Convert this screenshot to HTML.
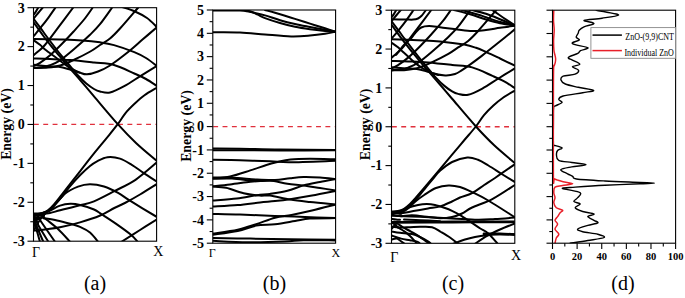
<!DOCTYPE html>
<html><head><meta charset="utf-8"><style>html,body{margin:0;padding:0;background:#fff;overflow:hidden}svg{display:block}</style></head><body>
<svg width="685" height="298" viewBox="0 0 685 298">
<defs>
<clipPath id="clipa"><rect x="33.5" y="7.7" width="123.10" height="233.50"/></clipPath>
<clipPath id="clipb"><rect x="212.8" y="10.0" width="122.80" height="233.20"/></clipPath>
<clipPath id="clipc"><rect x="391.5" y="10.2" width="123.30" height="233.10"/></clipPath>
<clipPath id="clipd"><rect x="552.5" y="10.2" width="123.10" height="233.00"/></clipPath>
</defs>
<rect width="685" height="298" fill="#fff"/>
<line x1="33.9" y1="124.45" x2="156.6" y2="124.45" stroke="#e0303c" stroke-width="1.3" stroke-dasharray="4.9 4.45"/>
<line x1="213.20000000000002" y1="126.60" x2="335.6" y2="126.60" stroke="#e0303c" stroke-width="1.3" stroke-dasharray="4.9 4.45"/>
<line x1="391.9" y1="126.75" x2="514.8" y2="126.75" stroke="#e0303c" stroke-width="1.3" stroke-dasharray="4.9 4.45"/>
<g clip-path="url(#clipa)" fill="none" stroke="#000" stroke-width="2.0" stroke-linecap="round" stroke-linejoin="round">
<path d="M33.60,14.80 C34.00,14.23 35.17,12.70 36.00,11.40 C36.83,10.10 38.17,7.73 38.60,7.00"/>
<path d="M33.60,18.60 C34.37,17.67 36.60,14.93 38.20,13.00 C39.80,11.07 42.37,8.00 43.20,7.00"/>
<path d="M33.60,36.20 C34.85,34.68 38.68,30.12 41.10,27.10 C43.52,24.08 45.63,21.45 48.10,18.10 C50.57,14.75 54.60,8.85 55.90,7.00"/>
<path d="M33.60,55.20 C34.33,54.58 36.12,53.20 38.00,51.50 C39.88,49.80 41.23,49.40 44.90,45.00 C48.57,40.60 55.22,31.43 60.00,25.10 C64.78,18.77 71.33,10.02 73.60,7.00"/>
<path d="M33.60,66.00 C34.67,65.47 37.25,64.60 40.00,62.80 C42.75,61.00 46.47,58.33 50.10,55.20 C53.73,52.07 57.88,47.95 61.80,44.00 C65.72,40.05 69.82,35.67 73.60,31.50 C77.38,27.33 81.25,23.08 84.50,19.00 C87.75,14.92 91.67,9.00 93.10,7.00"/>
<path d="M33.60,67.80 C35.00,67.70 39.25,67.63 42.00,67.20 C44.75,66.77 47.08,66.35 50.10,65.20 C53.12,64.05 56.18,62.92 60.10,60.30 C64.02,57.68 68.57,53.80 73.60,49.50 C78.63,45.20 85.90,38.72 90.30,34.50 C94.70,30.28 96.30,28.78 100.00,24.20 C103.70,19.62 110.42,9.87 112.50,7.00"/>
<path d="M33.60,68.00 C36.00,67.92 43.58,67.92 48.00,67.50 C52.42,67.08 55.83,66.75 60.10,65.50 C64.37,64.25 68.57,62.33 73.60,60.00 C78.63,57.67 85.90,54.00 90.30,51.50 C94.70,49.00 96.72,47.17 100.00,45.00 C103.28,42.83 106.67,41.25 110.00,38.50 C113.33,35.75 115.23,33.75 120.00,28.50 C124.77,23.25 135.50,10.58 138.60,7.00"/>
<path d="M122.20,7.00 C124.33,7.75 130.87,9.67 135.00,11.50 C139.13,13.33 143.40,15.45 147.00,18.00 C150.60,20.55 155.00,25.33 156.60,26.80"/>
<path d="M33.60,38.90 C38.00,39.00 51.93,39.25 60.00,39.50 C68.07,39.75 75.33,39.93 82.00,40.40 C88.67,40.87 94.67,41.52 100.00,42.30 C105.33,43.08 108.28,43.47 114.00,45.10 C119.72,46.73 128.97,49.95 134.30,52.10 C139.63,54.25 142.28,55.72 146.00,58.00 C149.72,60.28 154.83,64.50 156.60,65.80"/>
<path d="M33.60,58.50 C36.33,58.58 43.93,58.75 50.00,59.00 C56.07,59.25 62.67,59.42 70.00,60.00 C77.33,60.58 86.67,61.67 94.00,62.50 C101.33,63.33 107.28,63.17 114.00,65.00 C120.72,66.83 128.97,71.17 134.30,73.50 C139.63,75.83 142.28,76.95 146.00,79.00 C149.72,81.05 154.83,84.67 156.60,85.80"/>
<path d="M33.60,40.20 C34.67,40.97 38.03,43.20 40.00,44.80 C41.97,46.40 42.70,47.63 45.40,49.80 C48.10,51.97 53.07,55.45 56.20,57.80 C59.33,60.15 61.57,62.03 64.20,63.90 C66.83,65.77 69.37,67.55 72.00,69.00 C74.63,70.45 77.50,71.72 80.00,72.60 C82.50,73.48 84.00,74.48 87.00,74.30 C90.00,74.12 94.17,72.97 98.00,71.50 C101.83,70.03 104.93,68.78 110.00,65.50 C115.07,62.22 122.98,56.12 128.40,51.80 C133.82,47.48 137.80,43.65 142.50,39.60 C147.20,35.55 154.25,29.52 156.60,27.50"/>
<path d="M33.60,64.80 C35.80,65.03 42.60,65.87 46.80,66.20 C51.00,66.53 54.93,66.23 58.80,66.80 C62.67,67.37 66.47,68.60 70.00,69.60 C73.53,70.60 78.33,72.27 80.00,72.80"/>
<path d="M33.60,18.80 C35.02,20.70 39.98,27.33 42.10,30.20 C44.22,33.07 44.15,33.12 46.30,36.00 C48.45,38.88 52.30,44.00 55.00,47.50 C57.70,51.00 60.00,53.92 62.50,57.00 C65.00,60.08 67.42,62.92 70.00,66.00 C72.58,69.08 75.28,72.58 78.00,75.50 C80.72,78.42 83.63,81.25 86.30,83.50 C88.97,85.75 91.72,87.67 94.00,89.00 C96.28,90.33 97.33,90.92 100.00,91.50 C102.67,92.08 105.97,93.38 110.00,92.50 C114.03,91.62 119.15,88.93 124.20,86.20 C129.25,83.47 134.90,79.47 140.30,76.10 C145.70,72.73 153.88,67.68 156.60,66.00"/>
<path d="M33.60,22.30 C35.23,24.58 40.33,31.88 43.40,36.00 C46.47,40.12 48.90,43.17 52.00,47.00 C55.10,50.83 58.95,55.37 62.00,59.00 C65.05,62.63 66.92,64.87 70.30,68.80 C73.68,72.73 78.35,78.00 82.30,82.60 C86.25,87.20 88.08,89.47 94.00,96.40 C99.92,103.33 110.80,116.43 117.80,124.20 C124.80,131.97 129.53,136.90 136.00,143.00 C142.47,149.10 153.17,157.83 156.60,160.80"/>
<path d="M35.00,214.50 C36.17,214.28 39.83,213.90 42.00,213.20 C44.17,212.50 46.00,211.78 48.00,210.30 C50.00,208.82 51.67,206.97 54.00,204.30 C56.33,201.63 57.60,199.88 62.00,194.30 C66.40,188.72 75.07,177.62 80.40,170.80 C85.73,163.98 89.73,158.73 94.00,153.40 C98.27,148.07 102.03,143.67 106.00,138.80 C109.97,133.93 114.52,128.53 117.80,124.20 C121.08,119.87 122.82,116.30 125.70,112.80 C128.58,109.30 131.97,106.13 135.10,103.20 C138.23,100.27 140.92,97.77 144.50,95.20 C148.08,92.63 154.58,89.03 156.60,87.80"/>
<path d="M35.00,214.50 C36.17,214.32 39.83,214.02 42.00,213.40 C44.17,212.78 46.00,212.15 48.00,210.80 C50.00,209.45 51.67,207.68 54.00,205.30 C56.33,202.92 59.33,199.67 62.00,196.50 C64.67,193.33 67.00,189.83 70.00,186.30 C73.00,182.77 76.67,178.68 80.00,175.30 C83.33,171.92 87.17,168.33 90.00,166.00 C92.83,163.67 94.08,162.77 97.00,161.30 C99.92,159.83 103.67,157.65 107.50,157.20 C111.33,156.75 115.95,157.33 120.00,158.60 C124.05,159.87 127.88,162.42 131.80,164.80 C135.72,167.18 139.37,170.12 143.50,172.90 C147.63,175.68 154.42,180.07 156.60,181.50"/>
<path d="M37.00,214.20 C38.17,213.90 41.65,213.23 44.00,212.40 C46.35,211.57 47.57,212.33 51.10,209.20 C54.63,206.07 60.72,197.37 65.20,193.60 C69.68,189.83 73.88,188.17 78.00,186.60 C82.12,185.03 85.57,184.22 89.90,184.20 C94.23,184.18 99.30,185.05 104.00,186.50 C108.70,187.95 113.77,190.53 118.10,192.90 C122.43,195.27 123.58,196.72 130.00,200.70 C136.42,204.68 152.17,214.12 156.60,216.80"/>
<path d="M39.00,214.60 C40.83,214.33 46.47,213.72 50.00,213.00 C53.53,212.28 55.20,211.58 60.20,210.30 C65.20,209.02 74.37,206.80 80.00,205.30 C85.63,203.80 88.20,203.70 94.00,201.30 C99.80,198.90 107.88,194.48 114.80,190.90 C121.72,187.32 128.53,184.52 135.50,179.80 C142.47,175.08 153.08,165.47 156.60,162.60"/>
<path d="M40.00,214.80 C41.67,214.08 46.67,212.03 50.00,210.50 C53.33,208.97 56.62,206.72 60.00,205.60 C63.38,204.48 66.95,203.90 70.30,203.80 C73.65,203.70 76.15,204.05 80.10,205.00 C84.05,205.95 90.35,207.92 94.00,209.50 C97.65,211.08 98.37,212.15 102.00,214.50 C105.63,216.85 111.07,220.30 115.80,223.60 C120.53,226.90 126.70,231.23 130.40,234.30 C134.10,237.37 136.73,240.72 138.00,242.00"/>
<path d="M33.60,230.60 C35.50,230.40 40.60,229.95 45.00,229.40 C49.40,228.85 54.17,228.47 60.00,227.30 C65.83,226.13 73.30,224.37 80.00,222.40 C86.70,220.43 94.48,217.90 100.20,215.50 C105.92,213.10 110.18,210.08 114.30,208.00 C118.42,205.92 120.62,205.25 124.90,203.00 C129.18,200.75 134.72,197.63 140.00,194.50 C145.28,191.37 153.83,185.92 156.60,184.20"/>
<path d="M121.10,242.00 C124.25,240.00 134.08,233.75 140.00,230.00 C145.92,226.25 153.83,221.25 156.60,219.50"/>
<path d="M43.40,218.20 C45.67,218.57 52.52,219.47 57.00,220.40 C61.48,221.33 66.47,222.73 70.30,223.80 C74.13,224.87 76.72,225.35 80.00,226.80 C83.28,228.25 86.95,229.97 90.00,232.50 C93.05,235.03 96.92,240.42 98.30,242.00"/>
<path d="M33.60,222.00 C34.00,223.00 34.93,224.67 36.00,228.00 C37.07,231.33 39.33,239.67 40.00,242.00"/>
<path d="M34.00,219.50 C34.50,220.75 35.43,223.25 37.00,227.00 C38.57,230.75 42.33,239.50 43.40,242.00"/>
<path d="M35.50,218.00 C36.00,219.25 36.33,221.50 38.50,225.50 C40.67,229.50 46.83,239.25 48.50,242.00"/>
<path d="M38.00,216.50 C38.67,217.58 39.13,218.75 42.00,223.00 C44.87,227.25 53.00,238.83 55.20,242.00"/>
<path d="M42.00,216.00 C42.83,216.67 44.33,217.83 47.00,220.00 C49.67,222.17 54.12,225.33 58.00,229.00 C61.88,232.67 68.25,239.83 70.30,242.00"/>
<path d="M33.60,216.00 C34.00,216.58 35.27,218.17 36.00,219.50 C36.73,220.83 37.67,223.25 38.00,224.00"/>
<path d="M33.60,227.00 C33.92,226.17 34.77,223.58 35.50,222.00 C36.23,220.42 37.58,218.25 38.00,217.50"/>
<path d="M33.60,230.50 C34.17,229.50 35.77,226.50 37.00,224.50 C38.23,222.50 39.83,220.00 41.00,218.50 C42.17,217.00 43.50,216.00 44.00,215.50"/>
<path d="M33.60,213.50 C34.50,213.52 37.10,213.52 39.00,213.60 C40.90,213.68 44.00,213.93 45.00,214.00"/>
<path d="M33.60,215.20 C34.50,215.23 37.27,215.30 39.00,215.40 C40.73,215.50 43.17,215.73 44.00,215.80"/>
<path d="M33.60,217.00 C34.33,217.03 36.60,217.10 38.00,217.20 C39.40,217.30 41.33,217.53 42.00,217.60"/>
<path d="M33.60,218.80 C34.17,218.82 35.93,218.83 37.00,218.90 C38.07,218.97 39.50,219.15 40.00,219.20"/>
</g>
<g clip-path="url(#clipb)" fill="none" stroke="#000" stroke-width="2.0" stroke-linecap="round" stroke-linejoin="round">
<path d="M212.80,10.40 C217.33,10.43 234.30,10.45 240.00,10.60 C245.70,10.75 244.50,10.90 247.00,11.30 C249.50,11.70 252.00,12.32 255.00,13.00 C258.00,13.68 260.83,14.20 265.00,15.40 C269.17,16.60 275.00,18.77 280.00,20.20 C285.00,21.63 290.00,22.87 295.00,24.00 C300.00,25.13 305.00,26.03 310.00,27.00 C315.00,27.97 320.73,29.02 325.00,29.80 C329.27,30.58 333.83,31.38 335.60,31.70"/>
<path d="M246.00,10.20 C247.00,10.50 250.00,11.25 252.00,12.00 C254.00,12.75 255.83,13.68 258.00,14.70 C260.17,15.72 261.33,16.72 265.00,18.10 C268.67,19.48 275.00,21.55 280.00,23.00 C285.00,24.45 290.00,25.77 295.00,26.80 C300.00,27.83 305.00,28.52 310.00,29.20 C315.00,29.88 320.73,30.48 325.00,30.90 C329.27,31.32 333.83,31.57 335.60,31.70"/>
<path d="M265.00,10.00 C266.67,10.47 271.67,11.83 275.00,12.80 C278.33,13.77 281.67,14.78 285.00,15.80 C288.33,16.82 291.67,17.87 295.00,18.90 C298.33,19.93 301.67,20.95 305.00,22.00 C308.33,23.05 311.67,24.15 315.00,25.20 C318.33,26.25 321.57,27.22 325.00,28.30 C328.43,29.38 333.83,31.13 335.60,31.70"/>
<path d="M212.80,32.20 C217.33,32.23 231.30,32.02 240.00,32.40 C248.70,32.78 256.48,33.83 265.00,34.50 C273.52,35.17 283.60,36.22 291.10,36.40 C298.60,36.58 304.35,36.03 310.00,35.60 C315.65,35.17 320.73,34.45 325.00,33.80 C329.27,33.15 333.83,32.05 335.60,31.70"/>
<path d="M212.80,148.60 C217.33,148.63 228.80,148.63 240.00,148.80 C251.20,148.97 264.07,149.42 280.00,149.60 C295.93,149.78 326.33,149.85 335.60,149.90"/>
<path d="M212.80,150.20 C217.33,150.20 228.80,150.17 240.00,150.20 C251.20,150.23 264.07,150.38 280.00,150.40 C295.93,150.42 326.33,150.32 335.60,150.30"/>
<path d="M212.80,159.70 C217.33,159.80 230.40,160.03 240.00,160.30 C249.60,160.57 262.07,160.98 270.40,161.30 C278.73,161.62 279.13,162.28 290.00,162.20 C300.87,162.12 328.00,161.03 335.60,160.80"/>
<path d="M212.80,177.60 C215.68,177.40 223.85,177.60 230.10,176.40 C236.35,175.20 244.25,172.30 250.30,170.40 C256.35,168.50 262.05,166.35 266.40,165.00 C270.75,163.65 272.38,163.23 276.40,162.30 C280.42,161.37 284.90,160.00 290.50,159.40 C296.10,158.80 302.48,158.72 310.00,158.70 C317.52,158.68 331.33,159.20 335.60,159.30"/>
<path d="M212.80,178.20 C216.00,178.13 224.63,177.57 232.00,177.80 C239.37,178.03 249.83,179.23 257.00,179.60 C264.17,179.97 269.50,180.23 275.00,180.00 C280.50,179.77 285.23,178.68 290.00,178.20 C294.77,177.72 298.60,177.20 303.60,177.10 C308.60,177.00 314.67,177.27 320.00,177.60 C325.33,177.93 333.00,178.85 335.60,179.10"/>
<path d="M212.80,178.80 C216.00,178.77 225.08,178.27 232.00,178.60 C238.92,178.93 247.97,180.47 254.30,180.80 C260.63,181.13 264.48,180.10 270.00,180.60 C275.52,181.10 281.80,183.00 287.40,183.80 C293.00,184.60 298.17,184.70 303.60,185.40 C309.03,186.10 314.67,187.15 320.00,188.00 C325.33,188.85 333.00,190.08 335.60,190.50"/>
<path d="M212.80,186.20 C215.68,185.92 223.85,185.23 230.10,184.50 C236.35,183.77 244.98,182.40 250.30,181.80 C255.62,181.20 257.88,181.13 262.00,180.90 C266.12,180.67 272.83,180.48 275.00,180.40"/>
<path d="M212.80,186.50 C215.02,186.72 220.97,186.68 226.10,187.80 C231.23,188.92 238.00,191.90 243.60,193.20 C249.20,194.50 255.30,195.20 259.70,195.60 C264.10,196.00 264.93,194.93 270.00,195.60 C275.07,196.27 283.43,198.53 290.10,199.60 C296.77,200.67 302.42,201.20 310.00,202.00 C317.58,202.80 331.33,204.00 335.60,204.40"/>
<path d="M212.80,200.60 C216.80,200.27 229.43,199.50 236.80,198.60 C244.17,197.70 251.47,195.98 257.00,195.20 C262.53,194.42 264.93,194.63 270.00,193.90 C275.07,193.17 281.80,192.22 287.40,190.80 C293.00,189.38 298.17,186.87 303.60,185.40 C309.03,183.93 314.67,183.05 320.00,182.00 C325.33,180.95 333.00,179.58 335.60,179.10"/>
<path d="M212.80,206.60 C216.95,206.35 229.83,205.78 237.70,205.10 C245.57,204.42 253.78,203.17 260.00,202.50 C266.22,201.83 269.75,201.70 275.00,201.10 C280.25,200.50 285.33,199.83 291.50,198.90 C297.67,197.97 304.65,196.83 312.00,195.50 C319.35,194.17 331.67,191.67 335.60,190.90"/>
<path d="M212.80,214.00 C217.33,214.10 229.63,214.28 240.00,214.60 C250.37,214.92 264.17,215.50 275.00,215.90 C285.83,216.30 294.90,216.63 305.00,217.00 C315.10,217.37 330.50,217.92 335.60,218.10"/>
<path d="M212.80,233.60 C216.95,232.95 230.47,231.27 237.70,229.70 C244.93,228.13 249.98,226.20 256.20,224.20 C262.42,222.20 269.12,219.25 275.00,217.70 C280.88,216.15 285.33,216.10 291.50,214.90 C297.67,213.70 304.65,212.22 312.00,210.50 C319.35,208.78 331.67,205.58 335.60,204.60"/>
<path d="M212.80,234.80 C216.95,234.17 230.47,232.53 237.70,231.00 C244.93,229.47 249.98,226.73 256.20,225.60 C262.42,224.47 268.53,224.97 275.00,224.20 C281.47,223.43 289.18,221.95 295.00,221.00 C300.82,220.05 303.13,218.98 309.90,218.50 C316.67,218.02 331.32,218.17 335.60,218.10"/>
<path d="M212.80,238.00 C219.00,238.10 237.13,238.38 250.00,238.60 C262.87,238.82 275.73,239.12 290.00,239.30 C304.27,239.48 328.00,239.63 335.60,239.70"/>
<path d="M212.80,240.80 C218.57,241.05 235.40,242.17 247.40,242.30 C259.40,242.43 275.45,241.95 284.80,241.60 C294.15,241.25 295.03,240.40 303.50,240.20 C311.97,240.00 330.25,240.37 335.60,240.40"/>
</g>
<g clip-path="url(#clipc)" fill="none" stroke="#000" stroke-width="2.0" stroke-linecap="round" stroke-linejoin="round">
<path d="M391.60,17.29 C392.00,16.72 393.17,15.19 394.00,13.89 C394.84,12.60 396.17,10.23 396.61,9.50"/>
<path d="M391.60,21.08 C392.37,20.15 394.61,17.42 396.21,15.49 C397.81,13.56 400.38,10.50 401.22,9.50"/>
<path d="M391.60,38.65 C392.85,37.14 396.69,32.58 399.11,29.57 C401.53,26.56 403.65,23.93 406.12,20.58 C408.59,17.24 412.63,11.35 413.94,9.50"/>
<path d="M391.60,57.62 C392.33,57.00 394.12,55.62 396.01,53.92 C397.89,52.23 399.25,51.83 402.92,47.44 C406.59,43.04 413.25,33.89 418.04,27.57 C422.83,21.25 429.39,12.51 431.67,9.50"/>
<path d="M391.60,68.40 C392.67,67.87 395.26,67.00 398.01,65.21 C400.77,63.41 404.49,60.75 408.13,57.62 C411.77,54.49 415.92,50.38 419.85,46.44 C423.77,42.49 427.88,38.12 431.67,33.96 C435.45,29.80 439.33,25.56 442.58,21.48 C445.84,17.40 449.76,11.50 451.20,9.50"/>
<path d="M391.60,70.20 C393.00,70.10 397.26,70.03 400.01,69.60 C402.77,69.17 405.11,68.75 408.13,67.60 C411.15,66.45 414.22,65.32 418.14,62.71 C422.07,60.10 426.62,56.22 431.67,51.93 C436.71,47.64 443.99,41.16 448.39,36.95 C452.80,32.74 454.40,31.25 458.11,26.67 C461.81,22.10 468.54,12.36 470.63,9.50"/>
<path d="M391.60,70.40 C394.00,70.31 401.60,70.31 406.02,69.90 C410.45,69.48 413.87,69.15 418.14,67.90 C422.42,66.65 426.62,64.74 431.67,62.41 C436.71,60.08 443.99,56.42 448.39,53.92 C452.80,51.43 454.82,49.60 458.11,47.44 C461.40,45.27 464.79,43.69 468.12,40.95 C471.46,38.20 473.37,36.21 478.14,30.96 C482.91,25.72 493.67,13.08 496.77,9.50"/>
<path d="M391.60,60.91 C394.34,61.00 401.95,61.16 408.03,61.41 C414.10,61.66 420.71,61.83 428.06,62.41 C435.40,62.99 444.75,64.07 452.10,64.91 C459.44,65.74 465.40,65.57 472.13,67.40 C478.86,69.23 487.12,73.56 492.46,75.89 C497.81,78.22 500.46,79.33 504.18,81.38 C507.91,83.42 513.03,87.03 514.80,88.17"/>
<path d="M391.60,21.28 C393.02,23.18 397.99,29.80 400.11,32.66 C402.23,35.52 402.17,35.57 404.32,38.45 C406.47,41.33 410.33,46.44 413.03,49.93 C415.74,53.43 418.04,56.34 420.55,59.42 C423.05,62.49 425.47,65.32 428.06,68.40 C430.65,71.48 433.35,74.97 436.07,77.88 C438.79,80.80 441.71,83.62 444.39,85.87 C447.06,88.12 449.81,90.03 452.10,91.36 C454.39,92.69 455.44,93.27 458.11,93.86 C460.78,94.44 464.08,95.74 468.12,94.85 C472.16,93.97 477.29,91.29 482.35,88.57 C487.41,85.84 493.06,81.84 498.47,78.48 C503.88,75.12 512.08,70.08 514.80,68.40"/>
<path d="M391.60,24.77 C393.24,27.05 398.34,34.34 401.42,38.45 C404.49,42.56 406.93,45.61 410.03,49.43 C413.14,53.26 416.99,57.79 420.05,61.41 C423.10,65.04 424.97,67.27 428.36,71.20 C431.75,75.12 436.42,80.38 440.38,84.97 C444.34,89.56 446.17,91.83 452.10,98.75 C458.02,105.67 468.93,118.75 475.94,126.50 C482.95,134.25 487.69,139.18 494.17,145.27 C500.64,151.36 511.36,160.08 514.80,163.04"/>
<path d="M391.60,39.30 C396.00,39.47 409.93,39.95 418.00,40.30 C426.07,40.65 432.30,40.68 440.00,41.40 C447.70,42.12 458.20,43.53 464.20,44.60 C470.20,45.67 472.32,46.55 476.00,47.80 C479.68,49.05 482.30,50.32 486.30,52.10 C490.30,53.88 495.25,56.25 500.00,58.50 C504.75,60.75 512.33,64.42 514.80,65.60"/>
<path d="M391.60,42.70 C392.67,43.47 396.03,45.70 398.00,47.30 C399.97,48.90 401.40,50.47 403.40,52.30 C405.40,54.13 407.90,56.42 410.00,58.30 C412.10,60.18 414.00,62.02 416.00,63.60 C418.00,65.18 419.37,66.23 422.00,67.80 C424.63,69.37 427.93,71.73 431.80,73.00 C435.67,74.27 441.33,75.23 445.20,75.40 C449.07,75.57 452.20,74.88 455.00,74.00 C457.80,73.12 459.50,71.67 462.00,70.10 C464.50,68.53 466.65,67.02 470.00,64.60 C473.35,62.18 477.28,59.32 482.10,55.60 C486.92,51.88 493.45,46.67 498.90,42.30 C504.35,37.93 512.15,31.55 514.80,29.40"/>
<path d="M391.60,67.20 C393.80,67.40 400.60,68.10 404.80,68.40 C409.00,68.70 412.93,68.43 416.80,69.00 C420.67,69.57 424.40,70.80 428.00,71.80 C431.60,72.80 436.67,74.47 438.40,75.00"/>
<path d="M391.70,19.30 C393.92,19.33 401.42,19.45 405.00,19.50 C408.58,19.55 411.03,19.77 413.20,19.60 C415.37,19.43 416.60,19.13 418.00,18.50 C419.40,17.87 420.52,16.88 421.60,15.80 C422.68,14.72 423.77,12.97 424.50,12.00 C425.23,11.03 425.75,10.33 426.00,10.00"/>
<path d="M396.00,55.00 C397.33,53.33 401.37,47.92 404.00,45.00 C406.63,42.08 409.83,39.63 411.80,37.50 C413.77,35.37 414.23,33.87 415.80,32.20 C417.37,30.53 419.00,28.52 421.20,27.50 C423.40,26.48 425.87,26.13 429.00,26.10 C432.13,26.07 436.17,26.85 440.00,27.30 C443.83,27.75 446.98,28.18 452.00,28.80 C457.02,29.42 464.43,30.80 470.10,31.00 C475.77,31.20 481.02,30.53 486.00,30.00 C490.98,29.47 495.20,28.50 500.00,27.80 C504.80,27.10 512.33,26.13 514.80,25.80"/>
<path d="M454.00,10.00 C456.68,10.72 464.77,12.72 470.10,14.30 C475.43,15.88 481.02,18.02 486.00,19.50 C490.98,20.98 495.20,22.22 500.00,23.20 C504.80,24.18 512.33,25.03 514.80,25.40"/>
<path d="M462.00,10.00 C465.03,10.88 476.20,14.08 480.20,15.30 C484.20,16.52 482.65,16.18 486.00,17.30 C489.35,18.42 495.50,20.65 500.30,22.00 C505.10,23.35 512.38,24.83 514.80,25.40"/>
<path d="M472.00,10.00 C474.33,10.63 481.33,12.27 486.00,13.80 C490.67,15.33 495.20,17.27 500.00,19.20 C504.80,21.13 512.33,24.37 514.80,25.40"/>
<path d="M484.00,6.00 C485.40,6.70 489.23,8.28 492.40,10.20 C495.57,12.12 499.27,14.97 503.00,17.50 C506.73,20.03 512.83,24.08 514.80,25.40"/>
<path d="M391.60,211.50 C392.67,211.42 395.93,211.45 398.00,211.00 C400.07,210.55 402.00,209.97 404.00,208.80 C406.00,207.63 408.00,205.88 410.00,204.00 C412.00,202.12 413.28,200.58 416.00,197.50 C418.72,194.42 420.28,192.63 426.30,185.50 C432.32,178.37 445.82,162.20 452.10,154.70 C458.38,147.20 460.03,145.20 464.00,140.50 C467.97,135.80 472.57,130.72 475.90,126.50 C479.23,122.28 481.08,118.68 484.00,115.20 C486.92,111.72 490.23,108.50 493.40,105.60 C496.57,102.70 499.43,100.30 503.00,97.80 C506.57,95.30 512.83,91.80 514.80,90.60"/>
<path d="M391.60,212.20 C392.67,212.10 395.77,212.10 398.00,211.60 C400.23,211.10 402.83,210.37 405.00,209.20 C407.17,208.03 408.83,206.60 411.00,204.60 C413.17,202.60 415.45,200.17 418.00,197.20 C420.55,194.23 423.80,189.87 426.30,186.80 C428.80,183.73 430.72,181.47 433.00,178.80 C435.28,176.13 436.82,173.60 440.00,170.80 C443.18,168.00 447.55,164.22 452.10,162.00 C456.65,159.78 462.98,157.87 467.30,157.50 C471.62,157.13 474.48,158.47 478.00,159.80 C481.52,161.13 484.32,163.05 488.40,165.50 C492.48,167.95 498.10,171.73 502.50,174.50 C506.90,177.27 512.75,180.83 514.80,182.10"/>
<path d="M396.00,213.00 C397.17,212.75 401.00,212.27 403.00,211.50 C405.00,210.73 405.83,210.15 408.00,208.40 C410.17,206.65 413.30,203.23 416.00,201.00 C418.70,198.77 420.87,197.17 424.20,195.00 C427.53,192.83 431.95,189.60 436.00,188.00 C440.05,186.40 444.50,185.57 448.50,185.40 C452.50,185.23 455.93,185.82 460.00,187.00 C464.07,188.18 468.20,190.25 472.90,192.50 C477.60,194.75 481.22,196.38 488.20,200.50 C495.18,204.62 510.37,214.42 514.80,217.20"/>
<path d="M398.00,212.50 C399.67,211.72 404.67,209.05 408.00,207.80 C411.33,206.55 414.87,205.62 418.00,205.00 C421.13,204.38 423.97,204.10 426.80,204.10 C429.63,204.10 432.08,204.38 435.00,205.00 C437.92,205.62 441.47,206.83 444.30,207.80 C447.13,208.77 449.37,209.58 452.00,210.80 C454.63,212.02 456.95,213.20 460.10,215.10 C463.25,217.00 467.53,219.97 470.90,222.20 C474.27,224.43 477.40,226.62 480.30,228.50 C483.20,230.38 485.40,230.95 488.30,233.50 C491.20,236.05 496.13,242.08 497.70,243.80"/>
<path d="M400.00,213.50 C402.23,213.10 408.73,211.93 413.40,211.10 C418.07,210.27 423.52,209.28 428.00,208.50 C432.48,207.72 436.30,207.57 440.30,206.40 C444.30,205.23 448.72,202.98 452.00,201.50 C455.28,200.02 456.65,198.90 460.00,197.50 C463.35,196.10 468.07,195.18 472.10,193.10 C476.13,191.02 480.38,187.52 484.20,185.00 C488.02,182.48 489.90,181.45 495.00,178.00 C500.10,174.55 511.50,166.58 514.80,164.30"/>
<path d="M391.60,214.50 C393.18,214.78 397.68,216.07 401.10,216.20 C404.52,216.33 407.48,215.17 412.10,215.30 C416.72,215.43 424.10,216.52 428.80,217.00 C433.50,217.48 436.43,218.20 440.30,218.20 C444.17,218.20 448.38,217.78 452.00,217.00 C455.62,216.22 458.65,215.08 462.00,213.50 C465.35,211.92 467.05,209.90 472.10,207.50 C477.15,205.10 485.18,202.85 492.30,199.10 C499.42,195.35 511.05,187.35 514.80,185.00"/>
<path d="M475.00,243.80 C477.00,242.48 482.83,238.28 487.00,235.90 C491.17,233.52 495.37,231.57 500.00,229.50 C504.63,227.43 512.33,224.50 514.80,223.50"/>
<path d="M453.40,243.80 C455.33,243.08 461.40,240.63 465.00,239.50 C468.60,238.37 471.33,237.72 475.00,237.00 C478.67,236.28 482.83,235.67 487.00,235.20 C491.17,234.73 495.37,234.37 500.00,234.20 C504.63,234.03 512.33,234.20 514.80,234.20"/>
<path d="M391.60,215.80 C396.33,215.97 409.93,216.37 420.00,216.80 C430.07,217.23 442.40,217.90 452.00,218.40 C461.60,218.90 470.43,219.70 477.60,219.80 C484.77,219.90 488.80,219.38 495.00,219.00 C501.20,218.62 511.50,217.75 514.80,217.50"/>
<path d="M391.60,226.50 C392.82,226.67 395.83,227.38 398.90,227.50 C401.97,227.62 406.48,227.32 410.00,227.20 C413.52,227.08 416.32,226.80 420.00,226.80 C423.68,226.80 428.60,226.33 432.10,227.20 C435.60,228.07 438.02,230.28 441.00,232.00 C443.98,233.72 447.17,235.53 450.00,237.50 C452.83,239.47 456.67,242.75 458.00,243.80"/>
<path d="M391.60,231.50 C393.00,231.72 396.58,232.37 400.00,232.80 C403.42,233.23 408.77,233.40 412.10,234.10 C415.43,234.80 417.22,235.70 420.00,237.00 C422.78,238.30 426.97,240.77 428.80,241.90 C430.63,243.03 430.63,243.48 431.00,243.80"/>
<path d="M391.60,235.50 C393.18,236.02 398.03,237.82 401.10,238.60 C404.17,239.38 407.23,239.65 410.00,240.20 C412.77,240.75 416.03,241.30 417.70,241.90 C419.37,242.50 419.62,243.48 420.00,243.80"/>
<path d="M396.00,226.00 C397.40,226.90 402.07,229.73 404.40,231.40 C406.73,233.07 408.15,234.25 410.00,236.00 C411.85,237.75 414.33,240.60 415.50,241.90 C416.67,243.20 416.75,243.48 417.00,243.80"/>
<path d="M398.00,224.00 C398.88,224.58 401.47,226.42 403.30,227.50 C405.13,228.58 406.97,229.40 409.00,230.50 C411.03,231.60 413.33,232.77 415.50,234.10 C417.67,235.43 419.97,237.10 422.00,238.50 C424.03,239.90 426.53,241.62 427.70,242.50 C428.87,243.38 428.78,243.58 429.00,243.80"/>
<path d="M391.60,239.50 C392.43,239.35 395.20,238.43 396.60,238.60 C398.00,238.77 398.68,239.63 400.00,240.50 C401.32,241.37 403.75,243.25 404.50,243.80"/>
<path d="M391.60,213.20 C392.33,213.22 394.43,213.20 396.00,213.30 C397.57,213.40 400.17,213.72 401.00,213.80"/>
<path d="M391.60,218.80 C392.33,218.92 394.60,219.33 396.00,219.50 C397.40,219.67 399.33,219.75 400.00,219.80"/>
<path d="M391.60,222.50 C392.17,222.83 393.93,223.67 395.00,224.50 C396.07,225.33 397.50,227.00 398.00,227.50"/>
<path d="M391.60,229.00 C392.00,228.50 393.10,227.00 394.00,226.00 C394.90,225.00 396.50,223.50 397.00,223.00"/>
<path d="M404.00,219.50 C406.67,219.62 414.00,219.92 420.00,220.20 C426.00,220.48 436.67,221.03 440.00,221.20"/>
</g>
<g clip-path="url(#clipc)" fill="none" stroke="#000" stroke-width="2.8" stroke-linecap="round" stroke-linejoin="round">
<path d="M391.60,222.40 C401.67,222.33 431.47,222.10 452.00,222.00 C472.53,221.90 504.33,221.83 514.80,221.80"/>
<path d="M484.00,234.00 C486.67,233.97 494.87,233.70 500.00,233.80 C505.13,233.90 512.33,234.47 514.80,234.60"/>
</g>
<g clip-path="url(#clipd)" fill="none" stroke="#000" stroke-width="1.4" stroke-linecap="round" stroke-linejoin="round">
<path d="M596.30,10.40 C598.08,10.70 603.30,11.42 607.00,12.20 C610.70,12.98 619.33,14.10 618.50,15.10 C617.67,16.10 607.72,17.33 602.00,18.20 C596.28,19.07 585.87,19.58 584.20,20.30 C582.53,21.02 590.48,21.87 592.00,22.50 C593.52,23.13 594.63,23.38 593.30,24.10 C591.97,24.82 586.35,25.78 584.00,26.80 C581.65,27.82 580.17,29.13 579.20,30.20 C578.23,31.27 578.70,32.03 578.20,33.20 C577.70,34.37 576.03,36.07 576.20,37.20 C576.37,38.33 579.83,39.08 579.20,40.00 C578.57,40.92 573.08,41.92 572.40,42.70 C571.72,43.48 572.52,43.85 575.10,44.70 C577.68,45.55 587.00,46.80 587.90,47.80 C588.80,48.80 582.18,49.77 580.50,50.70 C578.82,51.63 579.82,52.28 577.80,53.40 C575.78,54.52 569.30,56.28 568.40,57.40 C567.50,58.52 570.50,58.97 572.40,60.10 C574.30,61.23 579.80,63.08 579.80,64.20 C579.80,65.32 572.62,65.80 572.40,66.80 C572.18,67.80 578.05,68.97 578.50,70.20 C578.95,71.43 577.67,73.20 575.10,74.20 C572.53,75.20 565.45,75.23 563.10,76.20 C560.75,77.17 560.63,78.70 561.00,80.00 C561.37,81.30 562.42,82.78 565.30,84.00 C568.18,85.22 573.58,86.22 578.30,87.30 C583.02,88.38 592.87,89.60 593.60,90.50 C594.33,91.40 587.78,91.78 582.70,92.70 C577.62,93.62 567.10,94.90 563.10,96.00 C559.10,97.10 558.88,98.22 558.70,99.30 C558.52,100.38 562.55,101.42 562.00,102.50 C561.45,103.58 556.80,104.97 555.40,105.80 C554.00,106.63 553.93,105.13 553.60,107.50 C553.27,109.87 553.43,113.92 553.40,120.00 C553.37,126.08 553.23,139.78 553.40,144.00 C553.57,148.22 552.97,144.65 554.40,145.30 C555.83,145.95 561.47,147.03 562.00,147.90 C562.53,148.77 558.52,149.33 557.60,150.50 C556.68,151.67 556.32,153.27 556.50,154.90 C556.68,156.53 556.15,159.03 558.70,160.30 C561.25,161.57 567.25,161.77 571.80,162.50 C576.35,163.23 586.00,163.97 586.00,164.70 C586.00,165.43 575.98,166.07 571.80,166.90 C567.62,167.73 561.60,168.55 560.90,169.70 C560.20,170.85 565.63,172.70 567.60,173.80 C569.57,174.90 571.22,175.43 572.70,176.30 C574.18,177.17 571.12,178.22 576.50,179.00 C581.88,179.78 594.42,180.43 605.00,181.00 C615.58,181.57 631.75,182.05 640.00,182.40 C648.25,182.75 654.50,182.87 654.50,183.10 C654.50,183.33 648.25,183.43 640.00,183.80 C631.75,184.17 615.80,184.75 605.00,185.30 C594.20,185.85 582.27,186.63 575.20,187.10 C568.13,187.57 563.87,187.68 562.60,188.10 C561.33,188.52 564.67,188.83 567.60,189.60 C570.53,190.37 578.52,191.35 580.20,192.70 C581.88,194.05 578.75,196.23 577.70,197.70 C576.65,199.17 573.48,200.45 573.90,201.50 C574.32,202.55 579.98,202.95 580.20,204.00 C580.42,205.05 574.78,206.55 575.20,207.80 C575.62,209.05 579.57,210.47 582.70,211.50 C585.83,212.53 593.15,213.15 594.00,214.00 C594.85,214.85 587.80,215.55 587.80,216.60 C587.80,217.65 592.33,219.25 594.00,220.30 C595.67,221.35 598.83,222.05 597.80,222.90 C596.77,223.75 591.15,224.37 587.80,225.40 C584.45,226.43 578.55,228.05 577.70,229.10 C576.85,230.15 579.35,230.85 582.70,231.70 C586.05,232.55 594.23,233.23 597.80,234.20 C601.37,235.17 605.77,236.45 604.10,237.50 C602.43,238.55 593.47,239.55 587.80,240.50 C582.13,241.45 573.05,242.75 570.10,243.20"/>
</g>
<g clip-path="url(#clipd)" fill="none" stroke="#e8202a" stroke-width="1.5" stroke-linecap="round" stroke-linejoin="round">
<path d="M553.80,10.20 C553.75,11.83 553.43,16.70 553.50,20.00 C553.57,23.30 554.18,26.67 554.20,30.00 C554.22,33.33 553.65,36.67 553.60,40.00 C553.55,43.33 553.70,47.58 553.90,50.00 C554.10,52.42 554.52,53.08 554.80,54.50 C555.08,55.92 555.52,57.20 555.60,58.50 C555.68,59.80 555.52,61.13 555.30,62.30 C555.08,63.47 554.58,64.43 554.30,65.50 C554.02,66.57 553.75,62.95 553.60,68.70 C553.45,74.45 553.43,81.95 553.40,100.00 C553.37,118.05 553.23,163.85 553.40,177.00 C553.57,190.15 553.70,178.38 554.40,178.90 C555.10,179.42 556.15,179.63 557.60,180.10 C559.05,180.57 560.58,181.10 563.10,181.70 C565.62,182.30 572.78,183.05 572.70,183.70 C572.62,184.35 565.55,185.03 562.60,185.60 C559.65,186.17 556.47,185.92 555.00,187.10 C553.53,188.28 553.80,190.93 553.80,192.70 C553.80,194.47 555.00,196.03 555.00,197.70 C555.00,199.37 553.58,201.02 553.80,202.70 C554.02,204.38 554.83,206.53 556.30,207.80 C557.77,209.07 561.97,209.47 562.60,210.30 C563.23,211.13 560.93,211.75 560.10,212.80 C559.27,213.85 558.45,215.35 557.60,216.60 C556.75,217.85 555.00,219.05 555.00,220.30 C555.00,221.55 557.60,222.63 557.60,224.10 C557.60,225.57 554.80,227.42 555.00,229.10 C555.20,230.78 558.58,232.72 558.80,234.20 C559.02,235.68 556.93,236.50 556.30,238.00 C555.67,239.50 555.22,242.33 555.00,243.20"/>
</g>
<rect x="33.5" y="7.7" width="123.10" height="233.50" fill="none" stroke="#000" stroke-width="1.1"/>
<line x1="27.50" y1="241.20" x2="33.5" y2="241.20" stroke="#000" stroke-width="1.1"/>
<text x="24.70" y="246.00" font-family="Liberation Serif" font-weight="bold" font-size="14" text-anchor="end">-3</text>
<line x1="30.30" y1="221.74" x2="33.5" y2="221.74" stroke="#000" stroke-width="1.1"/>
<line x1="27.50" y1="202.28" x2="33.5" y2="202.28" stroke="#000" stroke-width="1.1"/>
<text x="24.70" y="207.08" font-family="Liberation Serif" font-weight="bold" font-size="14" text-anchor="end">-2</text>
<line x1="30.30" y1="182.82" x2="33.5" y2="182.82" stroke="#000" stroke-width="1.1"/>
<line x1="27.50" y1="163.37" x2="33.5" y2="163.37" stroke="#000" stroke-width="1.1"/>
<text x="24.70" y="168.17" font-family="Liberation Serif" font-weight="bold" font-size="14" text-anchor="end">-1</text>
<line x1="30.30" y1="143.91" x2="33.5" y2="143.91" stroke="#000" stroke-width="1.1"/>
<line x1="27.50" y1="124.45" x2="33.5" y2="124.45" stroke="#000" stroke-width="1.1"/>
<text x="24.70" y="129.25" font-family="Liberation Serif" font-weight="bold" font-size="14" text-anchor="end">0</text>
<line x1="30.30" y1="104.99" x2="33.5" y2="104.99" stroke="#000" stroke-width="1.1"/>
<line x1="27.50" y1="85.53" x2="33.5" y2="85.53" stroke="#000" stroke-width="1.1"/>
<text x="24.70" y="90.33" font-family="Liberation Serif" font-weight="bold" font-size="14" text-anchor="end">1</text>
<line x1="30.30" y1="66.08" x2="33.5" y2="66.08" stroke="#000" stroke-width="1.1"/>
<line x1="27.50" y1="46.62" x2="33.5" y2="46.62" stroke="#000" stroke-width="1.1"/>
<text x="24.70" y="51.42" font-family="Liberation Serif" font-weight="bold" font-size="14" text-anchor="end">2</text>
<line x1="30.30" y1="27.16" x2="33.5" y2="27.16" stroke="#000" stroke-width="1.1"/>
<line x1="27.50" y1="7.70" x2="33.5" y2="7.70" stroke="#000" stroke-width="1.1"/>
<text x="24.70" y="12.50" font-family="Liberation Serif" font-weight="bold" font-size="14" text-anchor="end">3</text>
<rect x="212.8" y="10.0" width="122.80" height="233.20" fill="none" stroke="#000" stroke-width="1.1"/>
<line x1="206.80" y1="243.20" x2="212.8" y2="243.20" stroke="#000" stroke-width="1.1"/>
<text x="204.00" y="248.00" font-family="Liberation Serif" font-weight="bold" font-size="14" text-anchor="end">-5</text>
<line x1="209.60" y1="231.54" x2="212.8" y2="231.54" stroke="#000" stroke-width="1.1"/>
<line x1="206.80" y1="219.88" x2="212.8" y2="219.88" stroke="#000" stroke-width="1.1"/>
<text x="204.00" y="224.68" font-family="Liberation Serif" font-weight="bold" font-size="14" text-anchor="end">-4</text>
<line x1="209.60" y1="208.22" x2="212.8" y2="208.22" stroke="#000" stroke-width="1.1"/>
<line x1="206.80" y1="196.56" x2="212.8" y2="196.56" stroke="#000" stroke-width="1.1"/>
<text x="204.00" y="201.36" font-family="Liberation Serif" font-weight="bold" font-size="14" text-anchor="end">-3</text>
<line x1="209.60" y1="184.90" x2="212.8" y2="184.90" stroke="#000" stroke-width="1.1"/>
<line x1="206.80" y1="173.24" x2="212.8" y2="173.24" stroke="#000" stroke-width="1.1"/>
<text x="204.00" y="178.04" font-family="Liberation Serif" font-weight="bold" font-size="14" text-anchor="end">-2</text>
<line x1="209.60" y1="161.58" x2="212.8" y2="161.58" stroke="#000" stroke-width="1.1"/>
<line x1="206.80" y1="149.92" x2="212.8" y2="149.92" stroke="#000" stroke-width="1.1"/>
<text x="204.00" y="154.72" font-family="Liberation Serif" font-weight="bold" font-size="14" text-anchor="end">-1</text>
<line x1="209.60" y1="138.26" x2="212.8" y2="138.26" stroke="#000" stroke-width="1.1"/>
<line x1="206.80" y1="126.60" x2="212.8" y2="126.60" stroke="#000" stroke-width="1.1"/>
<text x="204.00" y="131.40" font-family="Liberation Serif" font-weight="bold" font-size="14" text-anchor="end">0</text>
<line x1="209.60" y1="114.94" x2="212.8" y2="114.94" stroke="#000" stroke-width="1.1"/>
<line x1="206.80" y1="103.28" x2="212.8" y2="103.28" stroke="#000" stroke-width="1.1"/>
<text x="204.00" y="108.08" font-family="Liberation Serif" font-weight="bold" font-size="14" text-anchor="end">1</text>
<line x1="209.60" y1="91.62" x2="212.8" y2="91.62" stroke="#000" stroke-width="1.1"/>
<line x1="206.80" y1="79.96" x2="212.8" y2="79.96" stroke="#000" stroke-width="1.1"/>
<text x="204.00" y="84.76" font-family="Liberation Serif" font-weight="bold" font-size="14" text-anchor="end">2</text>
<line x1="209.60" y1="68.30" x2="212.8" y2="68.30" stroke="#000" stroke-width="1.1"/>
<line x1="206.80" y1="56.64" x2="212.8" y2="56.64" stroke="#000" stroke-width="1.1"/>
<text x="204.00" y="61.44" font-family="Liberation Serif" font-weight="bold" font-size="14" text-anchor="end">3</text>
<line x1="209.60" y1="44.98" x2="212.8" y2="44.98" stroke="#000" stroke-width="1.1"/>
<line x1="206.80" y1="33.32" x2="212.8" y2="33.32" stroke="#000" stroke-width="1.1"/>
<text x="204.00" y="38.12" font-family="Liberation Serif" font-weight="bold" font-size="14" text-anchor="end">4</text>
<line x1="209.60" y1="21.66" x2="212.8" y2="21.66" stroke="#000" stroke-width="1.1"/>
<line x1="206.80" y1="10.00" x2="212.8" y2="10.00" stroke="#000" stroke-width="1.1"/>
<text x="204.00" y="14.80" font-family="Liberation Serif" font-weight="bold" font-size="14" text-anchor="end">5</text>
<rect x="391.5" y="10.2" width="123.30" height="233.10" fill="none" stroke="#000" stroke-width="1.1"/>
<line x1="385.50" y1="243.30" x2="391.5" y2="243.30" stroke="#000" stroke-width="1.1"/>
<text x="382.30" y="248.10" font-family="Liberation Serif" font-weight="bold" font-size="14" text-anchor="end">-3</text>
<line x1="388.30" y1="223.88" x2="391.5" y2="223.88" stroke="#000" stroke-width="1.1"/>
<line x1="385.50" y1="204.45" x2="391.5" y2="204.45" stroke="#000" stroke-width="1.1"/>
<text x="382.30" y="209.25" font-family="Liberation Serif" font-weight="bold" font-size="14" text-anchor="end">-2</text>
<line x1="388.30" y1="185.03" x2="391.5" y2="185.03" stroke="#000" stroke-width="1.1"/>
<line x1="385.50" y1="165.60" x2="391.5" y2="165.60" stroke="#000" stroke-width="1.1"/>
<text x="382.30" y="170.40" font-family="Liberation Serif" font-weight="bold" font-size="14" text-anchor="end">-1</text>
<line x1="388.30" y1="146.18" x2="391.5" y2="146.18" stroke="#000" stroke-width="1.1"/>
<line x1="385.50" y1="126.75" x2="391.5" y2="126.75" stroke="#000" stroke-width="1.1"/>
<text x="382.30" y="131.55" font-family="Liberation Serif" font-weight="bold" font-size="14" text-anchor="end">0</text>
<line x1="388.30" y1="107.33" x2="391.5" y2="107.33" stroke="#000" stroke-width="1.1"/>
<line x1="385.50" y1="87.90" x2="391.5" y2="87.90" stroke="#000" stroke-width="1.1"/>
<text x="382.30" y="92.70" font-family="Liberation Serif" font-weight="bold" font-size="14" text-anchor="end">1</text>
<line x1="388.30" y1="68.48" x2="391.5" y2="68.48" stroke="#000" stroke-width="1.1"/>
<line x1="385.50" y1="49.05" x2="391.5" y2="49.05" stroke="#000" stroke-width="1.1"/>
<text x="382.30" y="53.85" font-family="Liberation Serif" font-weight="bold" font-size="14" text-anchor="end">2</text>
<line x1="388.30" y1="29.62" x2="391.5" y2="29.62" stroke="#000" stroke-width="1.1"/>
<line x1="385.50" y1="10.20" x2="391.5" y2="10.20" stroke="#000" stroke-width="1.1"/>
<text x="382.30" y="15.00" font-family="Liberation Serif" font-weight="bold" font-size="14" text-anchor="end">3</text>
<rect x="552.5" y="10.2" width="123.10" height="233.00" fill="none" stroke="#000" stroke-width="1.1"/>
<line x1="546.50" y1="243.20" x2="552.5" y2="243.20" stroke="#000" stroke-width="1.1"/>
<line x1="549.30" y1="231.55" x2="552.5" y2="231.55" stroke="#000" stroke-width="1.1"/>
<line x1="546.50" y1="219.90" x2="552.5" y2="219.90" stroke="#000" stroke-width="1.1"/>
<line x1="549.30" y1="208.25" x2="552.5" y2="208.25" stroke="#000" stroke-width="1.1"/>
<line x1="546.50" y1="196.60" x2="552.5" y2="196.60" stroke="#000" stroke-width="1.1"/>
<line x1="549.30" y1="184.95" x2="552.5" y2="184.95" stroke="#000" stroke-width="1.1"/>
<line x1="546.50" y1="173.30" x2="552.5" y2="173.30" stroke="#000" stroke-width="1.1"/>
<line x1="549.30" y1="161.65" x2="552.5" y2="161.65" stroke="#000" stroke-width="1.1"/>
<line x1="546.50" y1="150.00" x2="552.5" y2="150.00" stroke="#000" stroke-width="1.1"/>
<line x1="549.30" y1="138.35" x2="552.5" y2="138.35" stroke="#000" stroke-width="1.1"/>
<line x1="546.50" y1="126.70" x2="552.5" y2="126.70" stroke="#000" stroke-width="1.1"/>
<line x1="549.30" y1="115.05" x2="552.5" y2="115.05" stroke="#000" stroke-width="1.1"/>
<line x1="546.50" y1="103.40" x2="552.5" y2="103.40" stroke="#000" stroke-width="1.1"/>
<line x1="549.30" y1="91.75" x2="552.5" y2="91.75" stroke="#000" stroke-width="1.1"/>
<line x1="546.50" y1="80.10" x2="552.5" y2="80.10" stroke="#000" stroke-width="1.1"/>
<line x1="549.30" y1="68.45" x2="552.5" y2="68.45" stroke="#000" stroke-width="1.1"/>
<line x1="546.50" y1="56.80" x2="552.5" y2="56.80" stroke="#000" stroke-width="1.1"/>
<line x1="549.30" y1="45.15" x2="552.5" y2="45.15" stroke="#000" stroke-width="1.1"/>
<line x1="546.50" y1="33.50" x2="552.5" y2="33.50" stroke="#000" stroke-width="1.1"/>
<line x1="549.30" y1="21.85" x2="552.5" y2="21.85" stroke="#000" stroke-width="1.1"/>
<line x1="546.50" y1="10.20" x2="552.5" y2="10.20" stroke="#000" stroke-width="1.1"/>
<text x="32.0" y="256.8" font-family="Liberation Serif" font-size="14">&#915;</text>
<text x="153.3" y="256.4" font-family="Liberation Serif" font-size="14">X</text>
<text x="208.7" y="257.1" font-family="Liberation Serif" font-size="12">&#915;</text>
<text x="331.5" y="257.4" font-family="Liberation Serif" font-size="12">X</text>
<text x="390.2" y="262.3" font-family="Liberation Serif" font-size="14">&#915;</text>
<text x="510.9" y="260.4" font-family="Liberation Serif" font-size="14">X</text>
<text transform="translate(10.9,124.0) rotate(-90)" font-family="Liberation Serif" font-weight="bold" font-size="13.8" text-anchor="middle">Energy (eV)</text>
<text transform="translate(191.0,126.0) rotate(-90)" font-family="Liberation Serif" font-weight="bold" font-size="13.8" text-anchor="middle">Energy (eV)</text>
<text transform="translate(369.7,124.4) rotate(-90)" font-family="Liberation Serif" font-weight="bold" font-size="13.8" text-anchor="middle">Energy (eV)</text>
<text x="95.0" y="289.9" font-family="Liberation Serif" font-size="20" text-anchor="middle">(a)</text>
<text x="274.5" y="289.9" font-family="Liberation Serif" font-size="20" text-anchor="middle">(b)</text>
<text x="453.0" y="289.9" font-family="Liberation Serif" font-size="20" text-anchor="middle">(c)</text>
<text x="623.0" y="289.9" font-family="Liberation Serif" font-size="20" text-anchor="middle">(d)</text>
<line x1="552.50" y1="243.2" x2="552.50" y2="249.0" stroke="#000" stroke-width="1.1"/>
<text x="552.50" y="260.3" font-family="Liberation Serif" font-weight="bold" font-size="10.5" text-anchor="middle">0</text>
<line x1="564.81" y1="243.2" x2="564.81" y2="246.6" stroke="#000" stroke-width="1.1"/>
<line x1="577.12" y1="243.2" x2="577.12" y2="249.0" stroke="#000" stroke-width="1.1"/>
<text x="577.12" y="260.3" font-family="Liberation Serif" font-weight="bold" font-size="10.5" text-anchor="middle">20</text>
<line x1="589.43" y1="243.2" x2="589.43" y2="246.6" stroke="#000" stroke-width="1.1"/>
<line x1="601.74" y1="243.2" x2="601.74" y2="249.0" stroke="#000" stroke-width="1.1"/>
<text x="601.74" y="260.3" font-family="Liberation Serif" font-weight="bold" font-size="10.5" text-anchor="middle">40</text>
<line x1="614.05" y1="243.2" x2="614.05" y2="246.6" stroke="#000" stroke-width="1.1"/>
<line x1="626.36" y1="243.2" x2="626.36" y2="249.0" stroke="#000" stroke-width="1.1"/>
<text x="626.36" y="260.3" font-family="Liberation Serif" font-weight="bold" font-size="10.5" text-anchor="middle">60</text>
<line x1="638.67" y1="243.2" x2="638.67" y2="246.6" stroke="#000" stroke-width="1.1"/>
<line x1="650.98" y1="243.2" x2="650.98" y2="249.0" stroke="#000" stroke-width="1.1"/>
<text x="650.98" y="260.3" font-family="Liberation Serif" font-weight="bold" font-size="10.5" text-anchor="middle">80</text>
<line x1="663.29" y1="243.2" x2="663.29" y2="246.6" stroke="#000" stroke-width="1.1"/>
<line x1="675.60" y1="243.2" x2="675.60" y2="249.0" stroke="#000" stroke-width="1.1"/>
<text x="675.60" y="260.3" font-family="Liberation Serif" font-weight="bold" font-size="10.5" text-anchor="middle">100</text>
<rect x="590.9" y="27.6" width="84.7" height="30.7" fill="#fff" stroke="#888" stroke-width="0.9"/>
<line x1="592.5" y1="35.1" x2="621.9" y2="35.1" stroke="#000" stroke-width="1.5"/>
<line x1="592.5" y1="50.6" x2="621.9" y2="50.6" stroke="#e8202a" stroke-width="1.5"/>
<text x="625.3" y="40.3" font-family="Liberation Serif" font-size="9.5" textLength="48.6" lengthAdjust="spacingAndGlyphs">ZnO-(9,9)CNT</text>
<text x="624.4" y="55.7" font-family="Liberation Serif" font-size="9.5" textLength="49.5" lengthAdjust="spacingAndGlyphs">Individual ZnO</text>
</svg>
</body></html>
